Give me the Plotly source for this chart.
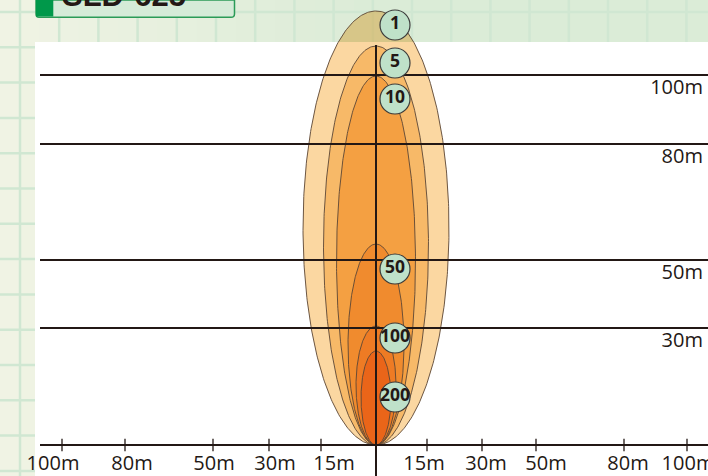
import numpy as np
import plotly.graph_objects as go

# ---------------- data ----------------
LUX_LEVELS = [1, 5, 10, 50, 100, 200]
BEAM_REACH = [434, 399, 369, 201, 119, 94]          # forward reach of each isolux contour (chart units)
BEAM_HALF_WIDTH = [73, 52.5, 39.5, 28, 20, 15]      # lateral half-width of each contour (chart units)
RANGE_TICK_POS = [370, 301, 185, 117]
RANGE_TICK_LABELS = ["100m", "80m", "50m", "30m"]
SIDE_TICK_POS = [-314, -251, -163, -107, -55, 51, 106, 160, 248, 311]
SIDE_LABEL_POS = [-323, -244, -162, -101, -42, 48, 110, 170, 252, 312]
SIDE_TICK_LABELS = ["100m", "80m", "50m", "30m", "15m", "15m", "30m", "50m", "80m", "100m"]
TITLE = "SLD-625"

# ---------------- styling ----------------
W, H = 708, 476
X0, Y0 = 376, 445
FILL_COLORS = ["#fbd7a1", "#f7b968", "#f4a042", "#f08b2e", "#ee7b24", "#ea6519"]
CAP_COLOR = "rgba(212,173,83,0.6)"
INK = "#231815"
EDGE = "#5b4636"
BADGE_FILL = "#bfe1c9"
BADGE_Y_PX = [25, 63, 99, 269, 338, 397]
BADGE_X_PX = 395


def px2x(px):
    return px - X0


def py2y(py):
    return Y0 - py


def xp(px):
    return min(1.0, max(0.0, px / W))


def yp(py):
    return min(1.0, max(0.0, 1 - py / H))


fig = go.Figure()

# beam contours
t_full = np.linspace(-np.pi / 2, 3 * np.pi / 2, 400)
panel_top = py2y(42)
for i, (lux, reach, hw, col) in enumerate(zip(LUX_LEVELS, BEAM_REACH, BEAM_HALF_WIDTH, FILL_COLORS)):
    b = reach / 2.0
    if reach > panel_top:
        t0 = np.arcsin((panel_top - b) / b)
        tl = np.linspace(np.pi - t0, 2 * np.pi + t0, 300)
        fig.add_trace(go.Scatter(x=hw * np.cos(tl), y=b + b * np.sin(tl), fill="toself",
                                 fillcolor=col, mode="none", hoverinfo="skip"))
        tu = np.linspace(t0, np.pi - t0, 120)
        fig.add_trace(go.Scatter(x=hw * np.cos(tu), y=b + b * np.sin(tu), fill="toself",
                                 fillcolor=CAP_COLOR, mode="none", hoverinfo="skip"))
        fig.add_trace(go.Scatter(x=hw * np.cos(t_full), y=b + b * np.sin(t_full), mode="lines",
                                 line=dict(color=EDGE, width=0.9), hoverinfo="skip"))
    else:
        fig.add_trace(go.Scatter(x=hw * np.cos(t_full), y=b + b * np.sin(t_full), fill="toself",
                                 fillcolor=col, mode="lines", line=dict(color=EDGE, width=0.9),
                                 hoverinfo="skip"))

# range lines
lx, ly = [], []
for p in RANGE_TICK_POS:
    lx += [px2x(40), px2x(W), None]
    ly += [p, p, None]
fig.add_trace(go.Scatter(x=lx, y=ly, mode="lines", line=dict(color=INK, width=2), hoverinfo="skip"))

# centre line and base line
fig.add_trace(go.Scatter(x=[0, 0], y=[py2y(45), py2y(H)], mode="lines",
                         line=dict(color=INK, width=2), hoverinfo="skip"))
fig.add_trace(go.Scatter(x=[px2x(40), px2x(W)], y=[0, 0], mode="lines",
                         line=dict(color=INK, width=2), hoverinfo="skip"))
# tick marks
fig.add_trace(go.Scatter(x=SIDE_TICK_POS, y=[0] * len(SIDE_TICK_POS), mode="markers",
                         marker=dict(symbol="line-ns", size=9, line=dict(color=INK, width=1.3)),
                         hoverinfo="skip"))

# lux badges
fig.add_trace(go.Scatter(x=[px2x(BADGE_X_PX)] * len(LUX_LEVELS), y=[py2y(v) for v in BADGE_Y_PX],
                         mode="markers+text", text=[f"<b>{v}</b>" for v in LUX_LEVELS],
                         textposition="middle center",
                         textfont=dict(family="Open Sans", size=17.5, color=INK),
                         marker=dict(size=30, color=BADGE_FILL, line=dict(color="#3c3c3c", width=1.2)),
                         hoverinfo="skip"))

# ---------------- background decoration ----------------
shapes = []
n = 36
for k in range(n):
    x0 = k * W / n
    x1 = (k + 1) * W / n + 1
    t = min(1.0, ((x0 + x1) / 2) / 380.0)
    c0 = np.array([241, 244, 229])
    c1 = np.array([219, 236, 215])
    c = (c0 + (c1 - c0) * t).astype(int)
    shapes.append(dict(type="rect", xref="paper", yref="paper", x0=xp(x0), x1=xp(x1), y0=0, y1=1,
                       fillcolor=f"rgb({c[0]},{c[1]},{c[2]})", line=dict(width=0), layer="below"))
gx = 20.0
while gx < W - 2:
    shapes.append(dict(type="line", xref="paper", yref="paper", x0=xp(gx), x1=xp(gx), y0=0, y1=1,
                       line=dict(color="#d0e7d2", width=2.5), layer="below"))
    gx += 39.2
gy = 12.0
while gy < H - 2:
    shapes.append(dict(type="line", xref="paper", yref="paper", x0=0, x1=1, y0=yp(gy), y1=yp(gy),
                       line=dict(color="#d0e7d2", width=2.5), layer="below"))
    gy += 35.3
shapes.append(dict(type="rect", xref="paper", yref="paper", x0=xp(35), x1=1, y0=0, y1=yp(42),
                   fillcolor="white", line=dict(width=0), layer="below"))
# title tab
shapes.append(dict(type="path", xref="paper", yref="paper",
                   path=f"M {xp(36)},1 L {xp(36)},{yp(14)} Q {xp(36)},{yp(17.3)} {xp(39)},{yp(17.3)} "
                        f"L {xp(231)},{yp(17.3)} Q {xp(234.5)},{yp(17.3)} {xp(234.5)},{yp(14)} "
                        f"L {xp(234.5)},1 Z",
                   fillcolor="#d5ebd8", line=dict(color="#2b9b57", width=1.5), layer="above"))
shapes.append(dict(type="rect", xref="paper", yref="paper", x0=xp(36), x1=xp(53.3), y0=yp(16.5), y1=1,
                   fillcolor="#00984a", line=dict(width=0), layer="above"))

fig.update_layout(
    width=W, height=H,
    margin=dict(l=0, r=0, t=0, b=0, pad=0, autoexpand=False),
    paper_bgcolor="#e8f1e0",
    plot_bgcolor="rgba(0,0,0,0)",
    showlegend=False,
    shapes=shapes,
    xaxis=dict(domain=[0, 1], range=[px2x(0), px2x(W)], anchor="free", position=yp(Y0),
               automargin=False,
               tickvals=SIDE_LABEL_POS, ticktext=SIDE_TICK_LABELS, ticks="", ticklen=0, showgrid=False,
               zeroline=False, showline=False, ticklabelstandoff=4, ticklabeloverflow="allow",
               tickfont=dict(family="Open Sans", size=20, color=INK), fixedrange=True),
    yaxis=dict(domain=[0, 1], range=[py2y(H), py2y(0)], side="right", ticklabelposition="inside",
               automargin=False,
               tickvals=RANGE_TICK_POS, ticktext=RANGE_TICK_LABELS, ticks="", ticklen=0, showgrid=False,
               zeroline=False, showline=False, ticklabelshift=12, ticklabelstandoff=2,
               ticklabeloverflow="allow",
               tickfont=dict(family="Open Sans", size=20, color=INK), fixedrange=True),
    annotations=[dict(text=f"<b>{TITLE}</b>", xref="paper", yref="paper", x=xp(60), y=yp(15.2),
                      xanchor="left", yanchor="bottom", showarrow=False,
                      font=dict(family="Liberation Sans", size=31, color=INK))],
)

POST = (
    "document.documentElement.style.margin='0';"
    "document.body.style.margin='0';document.body.style.padding='0';"
    "document.body.style.overflow='hidden';"
    "document.documentElement.style.overflow='hidden';"
)

fig.write_html("out.html", config={"displayModeBar": False}, post_script=POST)
